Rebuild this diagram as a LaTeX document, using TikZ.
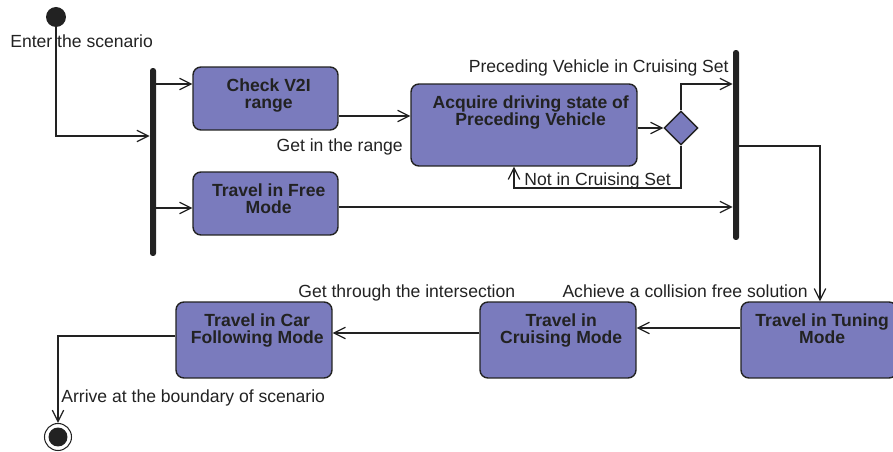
\documentclass[tikz,border=0pt]{standalone}
\usepackage{fontspec}
\setmainfont{Liberation Sans}
\usetikzlibrary{arrows.meta,%
                shapes.geometric}
\definecolor{ActFill}{RGB}{122,123,189}
\definecolor{Ink}{RGB}{34,34,34}

\begin{document}
\begin{tikzpicture}[x=0.02cm,y=-0.02cm]
		\tikzset{
			Activity/.style = {draw=Ink,fill=ActFill,rounded corners=4.5pt,line width=0.8pt,inner sep=0pt},
			ActText/.style = {font=\bfseries\fontsize{10}{9.5}\selectfont,text=Ink,align=center,anchor=north,inner sep=0pt,xshift=1.8pt},
			Decision/.style = {diamond,draw=Ink,fill=ActFill,line width=0.8pt,minimum width=0.68cm,minimum height=0.68cm,inner sep=0pt},
			SyncBar/.style = {fill=Ink,rounded corners=1.5pt,minimum width=0.12cm,inner sep=0pt},
			Initial/.style = {circle,fill=Ink,minimum size=0.4cm,inner sep=0pt},
			Final/.style = {circle,draw=Ink,fill=white,line width=0.6pt,minimum size=0.54cm,inner sep=0pt,
				path picture={\fill[Ink] (path picture bounding box.center) circle (0.19cm);}},
			EdgeLabel/.style = {font=\fontsize{10}{12}\selectfont,text=Ink,inner sep=0pt},
			Edge/.style = {draw=Ink,line width=1.2pt,-{Straight Barb[length=6.5pt,width=6.5pt,line width=0.7pt]}},
			ThinEdge/.style = {Edge,line width=0.6pt}
		}
		\useasboundingbox (0,0) rectangle (893,452);
		% start and fork
		\node[Initial] (start) at (56,17) {};
		\node[SyncBar,minimum height=3.76cm] (fork) at (153,162) {};
		% activities
		\node[Activity,minimum width=2.9cm,minimum height=1.26cm] (check) at (265.5,98.5) {};
		\node[ActText] (checktxt) at ([yshift=-7pt]check.north) {Check V2I\\range};
		\node[Activity,minimum width=2.9cm,minimum height=1.26cm] (free) at (265.5,203.5) {};
		\node[ActText] (freetxt) at ([yshift=-7pt]free.north) {Travel in Free\\Mode};
		\node[Activity,minimum width=4.52cm,minimum height=1.64cm] (acquire) at (524,125) {};
		\node[ActText,xshift=2pt] (acquiretxt) at ([yshift=-7pt]acquire.north) {Acquire driving state of\\Preceding Vehicle};
		\node[Decision] (dec) at (681,128) {};
		\node[SyncBar,minimum height=3.8cm] (join) at (736,145) {};
		\node[Activity,minimum width=3.12cm,minimum height=1.52cm] (tuning) at (819,340) {};
		\node[ActText] (tuningtxt) at ([yshift=-7pt]tuning.north) {Travel in Tuning\\Mode};
		\node[Activity,minimum width=3.12cm,minimum height=1.52cm] (cruising) at (558,340) {};
		\node[ActText] (cruisingtxt) at ([yshift=-7pt]cruising.north) {Travel in\\Cruising Mode};
		\node[Activity,minimum width=3.12cm,minimum height=1.52cm] (car) at (254,340) {};
		\node[ActText] (cartxt) at ([yshift=-7pt]car.north) {Travel in Car\\Following Mode};
		\node[Final] (stop) at (58,437) {};
		% labels
		\node[EdgeLabel,anchor=base west] (lblenter) at (10,48) {Enter the scenario};
		\node[EdgeLabel,anchor=base east] (lblrange) at (403,152) {Get in the range};
		\node[EdgeLabel,anchor=base east] (lblyes) at (729,73) {Preceding Vehicle in Cruising Set};
		\node[EdgeLabel,anchor=base west] (lblno) at (524,186) {Not in Cruising Set};
		\node[EdgeLabel,anchor=base east] (lblsolve) at (808,298) {Achieve a collision free solution};
		\node[EdgeLabel,anchor=base west] (lblthrough) at (298,298) {Get through the intersection};
		\node[EdgeLabel,anchor=base west] (lblarrive) at (61,403) {Arrive at the boundary of scenario};
		% flows
		\draw[ThinEdge] (start) |- (fork.west |- 0,136);
		\draw[Edge] (fork.east |- 0,84) -- (check.west |- 0,84);
		\draw[Edge] (fork.east |- 0,208) -- (free.west |- 0,208);
		\draw[Edge] (check.east |- 0,116) -- (acquire.west |- 0,116);
		\draw[Edge] (acquire.east |- dec) -- (dec.west);
		\draw[ThinEdge] (dec.north) |- (join.west |- 0,84);
		\draw[ThinEdge] (dec.south) |- (514,188) -- (acquire.south -| 514,0);
		\draw[Edge] (free.east |- 0,207) -- (join.west |- 0,207);
		\draw[ThinEdge] (join.east |- 0,146) -| (tuning.north -| 820,0);
		\draw[Edge] (tuning.west |- 0,328) -- (cruising.east |- 0,328);
		\draw[Edge] (cruising.west |- 0,333) -- (car.east |- 0,333);
		\draw[ThinEdge] (car.west |- 0,336) -| (stop.north);
	\end{tikzpicture}
\end{document}
